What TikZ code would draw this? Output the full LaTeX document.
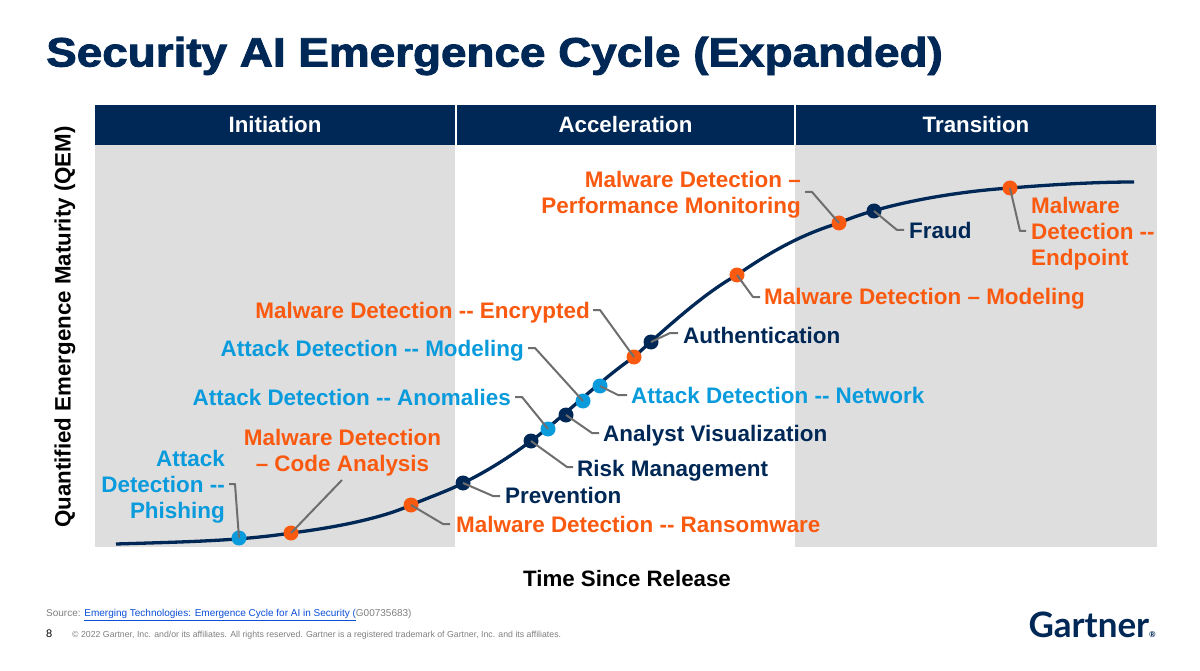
\documentclass[tikz,border=0pt]{standalone}
\usepackage{fontspec}
\setmainfont{Liberation Sans}
\newfontfamily\titlefont[FakeBold=2]{Liberation Sans}
\newfontfamily\logofont{Lato}
\definecolor{navy}{HTML}{002856}
\definecolor{orng}{HTML}{FA5A10}
\definecolor{blu}{HTML}{0A9BDC}
\definecolor{pane}{HTML}{DEDEDE}
\definecolor{ldr}{HTML}{6E6E6E}
\definecolor{lnk}{HTML}{0B4FD8}
\tikzset{x=1pt,y=-1pt,
 dot/.style={circle,inner sep=0pt,minimum size=15pt},
 dotO/.style={dot,fill=orng},
 dotB/.style={dot,fill=blu},
 dotN/.style={dot,fill=navy},
 lab/.style={font=\fontsize{22.45}{26}\selectfont\bfseries,inner sep=0pt,anchor=base west},
 labO/.style={lab,text=orng},
 labB/.style={lab,text=blu},
 labN/.style={lab,text=navy},
 lead/.style={draw=ldr,line width=2pt,line join=round},
 hdr/.style={fill=navy,minimum height=40pt,inner sep=0pt,text=white,font=\fontsize{22.3}{26}\selectfont\bfseries}}
\begin{document}
\begin{tikzpicture}
\useasboundingbox (0,0) rectangle (1200,671);
\fill[white] (0,0) rectangle (1200,671);
\node[anchor=west,inner sep=0pt,text=navy,font=\fontsize{41}{44}\titlefont\bfseries,xscale=1.118] (title) at (46,56) {Security AI Emergence Cycle (Expanded)};
\fill[pane] (95,145) rectangle (455,547);
\fill[pane] (795,145) rectangle (1157,547);
\node[hdr,minimum width=360pt] (h1) at (275,125) {Initiation};
\node[hdr,minimum width=337pt] (h2) at (625.5,125) {Acceleration};
\node[hdr,minimum width=360pt] (h3) at (976,125) {Transition};
\node[rotate=90,inner sep=0pt,text=black,font=\fontsize{22.3}{26}\selectfont\bfseries] (yl) at (65,327) {Quantified Emergence Maturity (QEM)};
\node[inner sep=0pt,text=black,font=\fontsize{22.3}{26}\selectfont\bfseries] (xl) at (627,579) {Time Since Release};
\draw[navy,line width=3.3pt] (116,544) .. controls (180,542) and (240,541) .. (291,533) .. controls (340,527) and (385,517) .. (411,505) .. controls (430,497) and (450,490) .. (463,483) .. controls (490,470) and (515,453) .. (531,441) .. controls (560,420) and (600,380) .. (634,357) .. controls (680,315) and (710,290) .. (737,275) .. controls (780,245) and (810,232) .. (839,223) .. controls (880,205) and (950,192) .. (1010,188) .. controls (1060,184) and (1100,182) .. (1134,182);
\node[dotB] (p1) at (239,538) {};
\node[dotO] (p2) at (291,533) {};
\node[dotO] (p3) at (411,505) {};
\node[dotN] (p4) at (463,483) {};
\node[dotN] (p5) at (531,441) {};
\node[dotB] (p6) at (548,429) {};
\node[dotN] (p7) at (566,415) {};
\node[dotB] (p8) at (583,401) {};
\node[dotB] (p9) at (600,386) {};
\node[dotO] (p10) at (634,357) {};
\node[dotN] (p11) at (651,342) {};
\node[dotO] (p12) at (737,275) {};
\node[dotO] (p13) at (839,223) {};
\node[dotN] (p14) at (874,211) {};
\node[dotO] (p15) at (1010,188) {};
\node[labB,anchor=east,align=right] (l1) at (225,487) {Attack\\Detection -{}-\\Phishing};
\node[labO,align=center,anchor=center] (l2) at (342.5,453) {Malware Detection\\– Code Analysis};
\node[labO] (l3) at (456,532) {Malware Detection -{}- Ransomware};
\node[labN] (l4) at (505,503) {Prevention};
\node[labN] (l5) at (577,476) {Risk Management};
\node[labB,anchor=base east] (l6) at (511,405) {Attack Detection -{}- Anomalies};
\node[labN] (l7) at (603,441) {Analyst Visualization};
\node[labB,anchor=base east] (l8) at (524,356) {Attack Detection -{}- Modeling};
\node[labB] (l9) at (631,403) {Attack Detection -{}- Network};
\node[labO,anchor=base east] (l10) at (590,318) {Malware Detection -{}- Encrypted};
\node[labN] (l11) at (683,343) {Authentication};
\node[labO] (l12) at (764,305) {Malware Detection – Modeling};
\node[labO,anchor=east,align=right] (l13) at (801,195) {Malware Detection –\\Performance Monitoring};
\node[labN] (l14) at (909,239) {Fraud};
\node[labO,align=left,anchor=west] (l15) at (1031,234) {Malware\\Detection -{}-\\Endpoint};
\coordinate (c1) at (229,484);
\draw[lead] (c1) -- ++(6,0) -- (p1.center);
\coordinate (a2) at (342,480);
\draw[lead] (a2) -- (p2.center);
\coordinate (c3) at (450,524);
\draw[lead] (c3) -- ++(-7,0) -- (p3.center);
\coordinate (c4) at (500,496);
\draw[lead] (c4) -- ++(-7,0) -- (p4.center);
\coordinate (c5) at (573,467);
\draw[lead] (c5) -- ++(-6,0) -- (p5.center);
\coordinate (c6) at (515,397);
\draw[lead] (c6) -- ++(7,0) -- (p6.center);
\coordinate (c7) at (599,433);
\draw[lead] (c7) -- ++(-7,0) -- (p7.center);
\coordinate (c8) at (528,348);
\draw[lead] (c8) -- ++(7,0) -- (p8.center);
\coordinate (c9) at (627,395);
\draw[lead] (c9) -- ++(-9,0) -- (p9.center);
\coordinate (c10) at (593,310);
\draw[lead] (c10) -- ++(7,0) -- (p10.center);
\coordinate (c11) at (678,333);
\draw[lead] (c11) -- ++(-8,0) -- (p11.center);
\coordinate (c12) at (760,297);
\draw[lead] (c12) -- ++(-7,0) -- (p12.center);
\coordinate (a13) at (805,192);
\draw[lead] (a13) -- ++(7,0) -- (p13.center);
\coordinate (c14) at (904,230);
\draw[lead] (c14) -- ++(-7,0) -- (p14.center);
\coordinate (a15) at (1026,231);
\draw[lead] (a15) -- ++(-6,0) -- (p15.center);
\node[anchor=west,inner sep=0pt,text=gray,font=\fontsize{10}{12}\selectfont] (src) at (46,615) {Source: \textcolor{lnk}{\underline{Emerging Technologies: Emergence Cycle for AI in Security (}}G00735683)};
\node[anchor=west,inner sep=0pt,text=black,font=\fontsize{11}{12}\selectfont] (pg) at (46,634) {8};
\node[anchor=west,inner sep=0pt,text=gray,font=\fontsize{8.75}{10}\selectfont] (cp) at (72,635) {© 2022 Gartner, Inc. and/or its affiliates. All rights reserved. Gartner is a registered trademark of Gartner, Inc. and its affiliates.};
\node[anchor=east,inner sep=0pt,text=navy,font=\fontsize{35}{40}\logofont\bfseries] (logo) at (1156,625) {Gartner\raisebox{0pt}{\fontsize{8}{8}\selectfont®}};
\end{tikzpicture}
\end{document}
